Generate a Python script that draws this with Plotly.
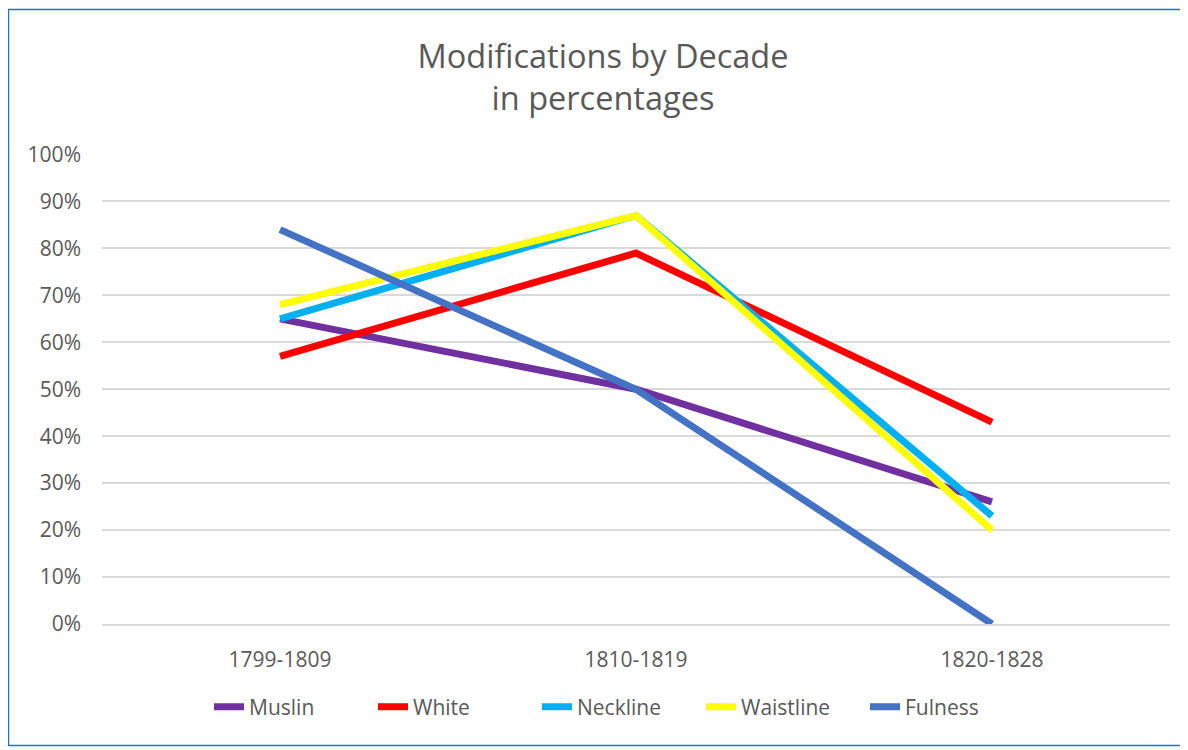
import plotly.graph_objects as go

decades = ["1799-1809", "1810-1819", "1820-1828"]
muslin = [0.65, 0.50, 0.26]
white = [0.57, 0.79, 0.43]
neckline = [0.65, 0.87, 0.23]
waistline = [0.68, 0.87, 0.20]
fulness = [0.84, 0.50, 0.00]

series = [
    ("Muslin", muslin, "#7030A0"),
    ("White", white, "#FF0000"),
    ("Neckline", neckline, "#00B0F0"),
    ("Waistline", waistline, "#FFFF00"),
    ("Fulness", fulness, "#4472C4"),
]

fig = go.Figure()
for name, vals, col in series:
    fig.add_trace(go.Scatter(
        x=decades, y=vals, name=name, mode="lines",
        line=dict(color=col, width=7),
        hovertemplate="%{y:.0%}",
    ))

# page has an 8px body margin; work in page pixels and convert
OFF = 8
W, H = 1180, 742
L, T = 102 - OFF, 154 - OFF
PLOT_R, PLOT_B = 1170 - OFF, 624 - OFF
R, B = W - PLOT_R, H - PLOT_B
pw, ph = W - L - R, H - T - B

def px_x(px):
    return (px - OFF - L) / pw

def px_y(py):
    return (PLOT_B - (py - OFF)) / ph

FONT = "Open Sans"
TXT = "#595959"

fig.update_layout(
    width=W, height=H,
    margin=dict(l=L, r=R, t=T, b=B, autoexpand=False),
    paper_bgcolor="white", plot_bgcolor="white",
    font=dict(family=FONT, color=TXT, size=21),
    title=dict(
        text="Modifications by Decade<br>in percentages",
        x=px_x(603), xref="paper", xanchor="center",
        y=1 - 60 / H, yanchor="middle",
        font=dict(family=FONT, size=32.5, color=TXT),
    ),
    xaxis=dict(
        range=[-0.5, 2.5],
        showgrid=False, showline=True, linecolor="#D9D9D9", linewidth=1.5,
        ticks="", tickfont=dict(size=21, color=TXT), ticklabelstandoff=16,
    ),
    yaxis=dict(
        range=[0, 1.001], dtick=0.1, tickformat=".0%",
        showgrid=True, gridcolor="#D9D9D9", gridwidth=1.5,
        zeroline=False, showline=False, ticks="",
        tickfont=dict(size=21, color=TXT), ticklabelstandoff=20,
    ),
    legend=dict(
        orientation="h", x=px_x(209), xanchor="left",
        y=px_y(707), yanchor="middle",
        font=dict(size=21, color=TXT),
        entrywidth=119, entrywidthmode="pixels",
        traceorder="normal", bgcolor="rgba(0,0,0,0)",
    ),
    showlegend=True,
    shapes=[dict(
        type="rect", xref="paper", yref="paper",
        x0=px_x(8.5), x1=px_x(1186.5),
        y0=px_y(745.5), y1=px_y(9.5),
        line=dict(color="#1A75CF", width=1.5), fillcolor="rgba(0,0,0,0)",
        layer="below",
    )],
)

fig.write_html("out.html")
